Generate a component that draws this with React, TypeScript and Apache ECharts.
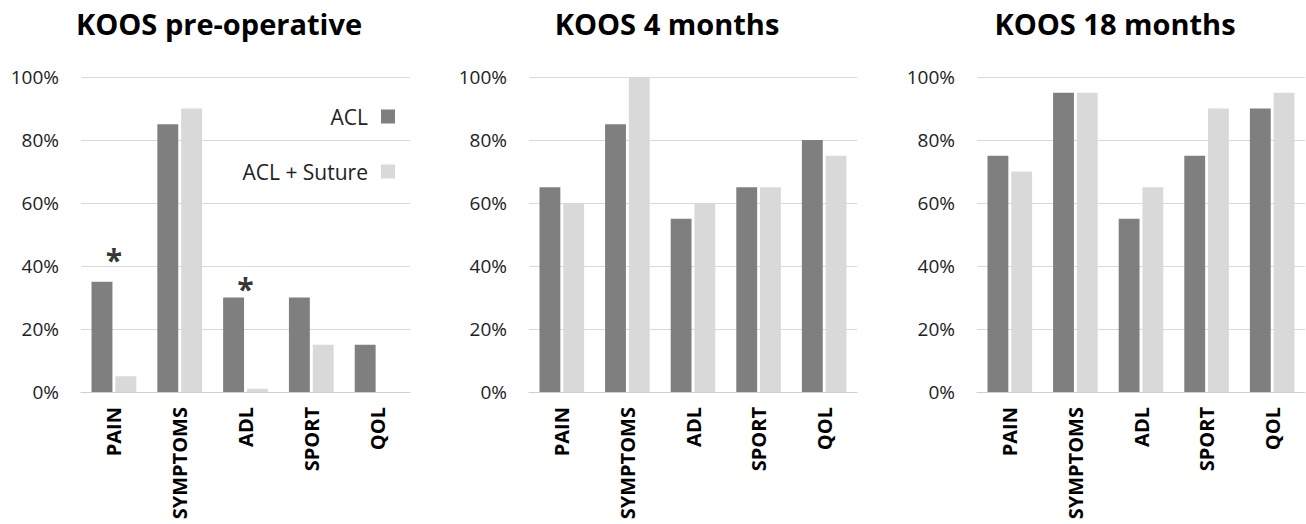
import React, { useEffect, useRef } from "react";
import * as echarts from "echarts";

const categories = ["PAIN", "SYMPTOMS", "ADL", "SPORT", "QOL"];
const panelTitles = ["KOOS pre-operative", "KOOS 4 months", "KOOS 18 months"];
const seriesNames = ["ACL", "ACL + Suture"];
const yTicks = [0, 20, 40, 60, 80, 100];

const aclPreOp = [35, 85, 30, 30, 15];
const sutPreOp = [5, 90, 1, 15, 0];
const acl4m = [65, 85, 55, 65, 80];
const sut4m = [60, 100, 60, 65, 75];
const acl18m = [75, 95, 55, 75, 90];
const sut18m = [70, 95, 65, 90, 95];

const asteriskCats = ["PAIN", "ADL"];
const asteriskValues = [42, 33];

const FONT = "'Open Sans', 'DejaVu Sans', sans-serif";
const DARK = "#7f7f7f";
const LIGHT = "#d9d9d9";

const grids = [
  { left: 81, width: 329 },
  { left: 529, width: 328 },
  { left: 977, width: 328 },
];
const titleCenters = [214, 662, 1110];

export default function App() {
  const ref = useRef<HTMLDivElement>(null);
  useEffect(() => {
    if (!ref.current) return;
    const chart = echarts.init(ref.current, undefined, { renderer: "svg" });
    const data = [
      [aclPreOp, sutPreOp],
      [acl4m, sut4m],
      [acl18m, sut18m],
    ];
    const series: any[] = [];
    data.forEach((pair, i) => {
      pair.forEach((vals, j) => {
        series.push({
          type: "bar",
          name: seriesNames[j],
          xAxisIndex: i,
          yAxisIndex: i,
          data: vals,
          barGap: "14%",
          barCategoryGap: "32%",
          itemStyle: { color: j === 0 ? DARK : LIGHT },
        });
      });
    });
    series.push({
      type: "scatter",
      xAxisIndex: 0,
      yAxisIndex: 0,
      symbolSize: 0,
      silent: true,
      data: asteriskCats.map((c, k) => [c, asteriskValues[k]]),
      label: {
        show: true,
        position: "inside",
        formatter: "*",
        fontSize: 30,
        fontWeight: "bold",
        color: "#000",
        fontFamily: FONT,
      },
    });
    chart.setOption({
      animation: false,
      backgroundColor: "#fff",
      title: panelTitles.map((t, i) => ({
        text: t,
        left: titleCenters[i],
        top: 4,
        textAlign: "center",
        textStyle: { fontFamily: FONT, fontSize: 29, fontWeight: "bold", color: "#000" },
      })),
      legend: {
        data: seriesNames,
        orient: "vertical",
        right: 1306 - 400,
        top: 101,
        align: "right",
        itemWidth: 14,
        itemHeight: 14,
        itemGap: 34,
        icon: "rect",
        textStyle: { fontFamily: FONT, fontSize: 21, color: "#222", padding: [0, 8, 0, 0] },
      },
      grid: grids.map((g) => ({ left: g.left, width: g.width, top: 77, height: 315 })),
      xAxis: grids.map((_, i) => ({
        type: "category",
        gridIndex: i,
        data: categories,
        axisTick: { show: false },
        axisLine: { lineStyle: { color: "#d0d0d0", width: 1 } },
        axisLabel: {
          rotate: 90,
          margin: 15,
          fontFamily: FONT,
          fontSize: 20,
          fontWeight: "bold",
          color: "#000",
          interval: 0,
        },
      })),
      yAxis: grids.map((_, i) => ({
        type: "value",
        gridIndex: i,
        min: yTicks[0],
        max: yTicks[yTicks.length - 1],
        interval: yTicks[1] - yTicks[0],
        axisLine: { show: false },
        axisTick: { show: false },
        splitLine: { lineStyle: { color: "#d9d9d9", width: 1 } },
        axisLabel: {
          formatter: "{value}%",
          margin: 22,
          fontFamily: FONT,
          fontSize: 19,
          color: "#222",
        },
      })),
      series,
    });
    return () => chart.dispose();
  }, []);
  return (
    <div
      ref={ref}
      style={{ position: "fixed", left: 0, top: 0, width: 1306, height: 524, background: "#fff" }}
    />
  );
}
